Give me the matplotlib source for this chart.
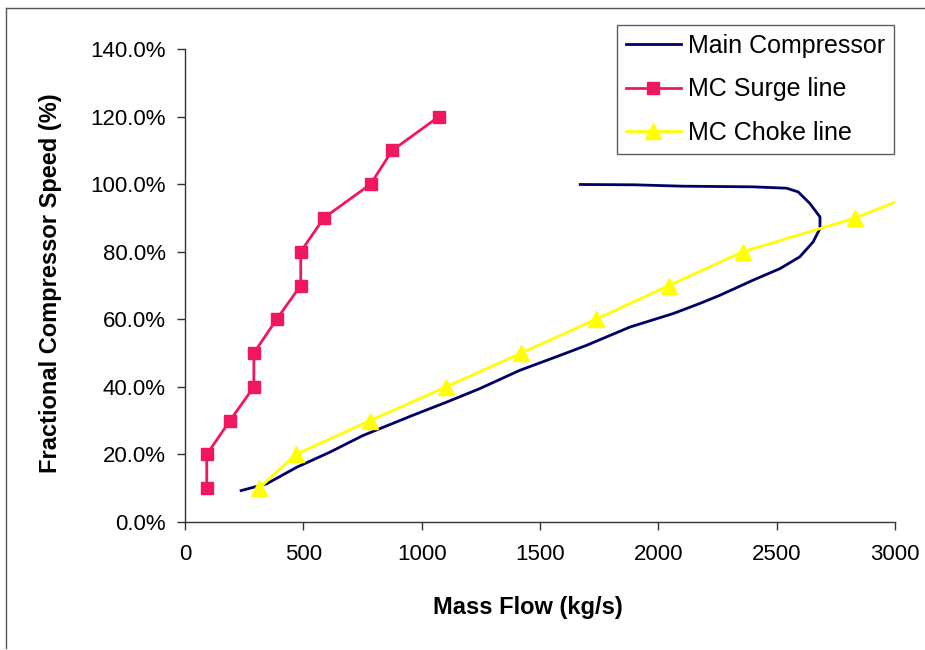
import matplotlib
matplotlib.use("Agg")
import matplotlib.pyplot as plt
from matplotlib.ticker import PercentFormatter, MultipleLocator
from matplotlib.lines import Line2D

# Main compressor operating line: mass flow (kg/s) vs fractional speed (%)
mc_flow = [237, 345, 472, 613, 752, 963, 1106, 1246, 1415, 1584, 1697, 1880,
           2063, 2176, 2260, 2401, 2514, 2598, 2654, 2683, 2683, 2640, 2591,
           2542, 2400, 2100, 1900, 1670]
mc_speed = [9.3, 11.3, 16.2, 20.7, 25.6, 31.6, 35.5, 39.5, 44.9, 49.3, 52.3,
            57.7, 61.7, 64.7, 67.1, 71.6, 75.0, 78.5, 82.9, 86.9, 90.3, 94.3,
            97.7, 98.8, 99.2, 99.4, 99.8, 99.9]

# Surge line
surge_flow = [92, 92, 190, 291, 291, 387, 489, 489, 587, 784, 876, 1073]
surge_speed = [10, 20, 30, 40, 50, 60, 70, 80, 90, 100, 110, 120]

# Choke line
choke_flow = [313, 468, 782, 1103, 1420, 1736, 2045, 2357, 2833, 3190]
choke_speed = [10, 20, 30, 40, 50, 60, 70, 80, 90, 100]

x_ticks = [0, 500, 1000, 1500, 2000, 2500, 3000]

plt.rcParams['font.family'] = ['Liberation Sans', 'DejaVu Sans']

fig = plt.figure(figsize=(9.25, 6.5), dpi=100)
ax = fig.add_axes([185 / 925, 1 - 522 / 650, (895 - 185) / 925, (522 - 49) / 650])

navy = '#000066'
pink = '#F0175F'
yellow = '#FFFF00'

ax.plot(mc_flow, mc_speed, color=navy, lw=2.0, zorder=3)
ax.plot(surge_flow, surge_speed, color=pink, lw=2.0, marker='s', ms=9,
        mec=pink, mfc=pink, zorder=4)
ax.plot(choke_flow, choke_speed, color=yellow, lw=2.0, marker='^', ms=11,
        mec=yellow, mfc=yellow, zorder=4)

ax.set_xlim(0, 3000)
ax.set_ylim(0, 140)
ax.set_xticks(x_ticks)
ax.set_xticklabels([str(v) for v in x_ticks])
ax.yaxis.set_major_locator(MultipleLocator(20))
ax.yaxis.set_major_formatter(PercentFormatter(xmax=100, decimals=1))

for s in ('top', 'right'):
    ax.spines[s].set_visible(False)
for s in ('left', 'bottom'):
    ax.spines[s].set_color('#333333')
    ax.spines[s].set_linewidth(1.0)

ax.tick_params(axis='both', direction='out', length=6, width=1.0,
               color='#333333', labelsize=16)
ax.tick_params(axis='y', pad=8)
ax.tick_params(axis='x', pad=10)

ax.set_xlabel('Mass Flow (kg/s)', fontsize=17, fontweight='bold')
ax.set_ylabel('Fractional Compressor Speed (%)', fontsize=17, fontweight='bold')
ax.xaxis.set_label_coords((528 - 185) / 710, (522 - 596) / 473)
ax.yaxis.set_label_coords((62 - 185) / 710, (522 - 283) / 473)

handles = [
    Line2D([], [], color=navy, lw=2.0),
    Line2D([], [], color=pink, lw=2.0, marker='s', ms=9),
    Line2D([], [], color=yellow, lw=2.0, marker='^', ms=11),
]
labels = ['Main Compressor', 'MC Surge line', 'MC Choke line']
leg = fig.legend(handles, labels, loc='upper left',
                 bbox_to_anchor=(617 / 925, 1 - 25 / 650),
                 fontsize=18, frameon=True, fancybox=False, shadow=False,
                 borderpad=0.35, labelspacing=0.78, handlelength=2.2,
                 handletextpad=0.3, borderaxespad=0)
leg.get_frame().set_edgecolor('#333333')
leg.get_frame().set_linewidth(1.0)

# Outer chart border
fig.add_artist(Line2D([6 / 925, 6 / 925], [1 - 648 / 650, 1 - 8 / 650],
                      transform=fig.transFigure, color='#555555', lw=1.0))
fig.add_artist(Line2D([6 / 925, 1.0], [1 - 8 / 650, 1 - 8 / 650],
                      transform=fig.transFigure, color='#555555', lw=1.0))

fig.savefig('out.png', dpi=100)
